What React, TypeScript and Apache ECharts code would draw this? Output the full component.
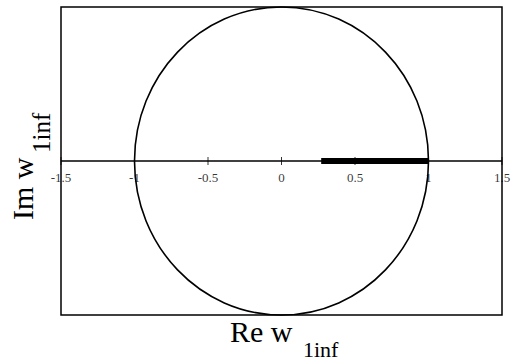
import React, { useEffect, useRef } from "react";
import * as echarts from "echarts";

// Real-axis tick values and their labels
const xTicks: number[] = [-1.5, -1, -0.5, 0, 0.5, 1, 1.5];
const xTickLabels: string[] = ["-1.5", "-1", "-0.5", "0", "0.5", "1", "1.5"];

// Unit circle: [centerRe, centerIm, radius]
const circleData: number[][] = [[0, 0, 1]];

// Highlighted segment on the real axis
const segmentData: number[][] = [
  [0.27, 0],
  [1, 0],
];

const SERIF = "'Liberation Serif', 'Times New Roman', serif";

export default function App() {
  const ref = useRef<HTMLDivElement>(null);

  useEffect(() => {
    if (!ref.current) return;
    const chart = echarts.init(ref.current, null, { renderer: "svg" });

    chart.setOption({
      animation: false,
      backgroundColor: "#ffffff",
      grid: {
        left: 61,
        top: 7,
        width: 441,
        height: 308,
        show: true,
        borderColor: "#000",
        borderWidth: 1.5,
        backgroundColor: "transparent",
      },
      xAxis: {
        type: "value",
        min: -1.5,
        max: 1.5,
        interval: 0.5,
        axisLine: { show: false },
        axisTick: { show: false },
        splitLine: { show: false },
        axisLabel: { show: false },
      },
      yAxis: {
        type: "value",
        min: -1,
        max: 1,
        show: false,
        splitLine: { show: false },
      },
      series: [
        {
          // real axis line through Im = 0
          type: "line",
          data: [
            [xTicks[0], 0],
            [xTicks[xTicks.length - 1], 0],
          ],
          symbol: "none",
          lineStyle: { color: "#000", width: 1.3 },
          silent: true,
          z: 2,
        },
        {
          // tick marks crossing the real axis, with their labels
          type: "scatter",
          data: xTicks.map((v) => [v, 0]),
          symbol: "rect",
          symbolSize: [1, 8],
          itemStyle: { color: "#000" },
          clip: false,
          label: {
            show: true,
            position: "bottom",
            distance: 6,
            color: "#000",
            fontFamily: SERIF,
            fontSize: 13,
            formatter: (p: any) => xTickLabels[p.dataIndex],
          },
          silent: true,
          z: 3,
        },
        {
          type: "custom",
          data: circleData,
          clip: false,
          renderItem: (params: any, api: any) => {
            const c = api.coord([api.value(0), api.value(1)]);
            const r = api.value(2);
            const s = api.size([r, r]);
            return {
              type: "ellipse",
              shape: { cx: c[0], cy: c[1], rx: s[0], ry: s[1] },
              style: { fill: "none", stroke: "#000", lineWidth: 1.6 },
            };
          },
          silent: true,
          z: 4,
        },
        {
          type: "line",
          data: segmentData,
          symbol: "none",
          lineStyle: { color: "#000", width: 6, cap: "butt" },
          silent: true,
          z: 5,
        },
      ],
      graphic: [
        {
          type: "text",
          x: 230,
          y: 331,
          style: { text: "Re w", font: `30px ${SERIF}`, fill: "#000", textAlign: "left", textVerticalAlign: "middle" },
        },
        {
          type: "text",
          x: 303,
          y: 349,
          style: { text: "1inf", font: `22px ${SERIF}`, fill: "#000", textAlign: "left", textVerticalAlign: "middle" },
        },
        {
          type: "text",
          x: 22.5,
          y: 220,
          rotation: Math.PI / 2,
          style: { text: "Im w", font: `30px ${SERIF}`, fill: "#000", textAlign: "left", textVerticalAlign: "middle" },
        },
        {
          type: "text",
          x: 41,
          y: 153,
          rotation: Math.PI / 2,
          style: { text: "1inf", font: `25px ${SERIF}`, fill: "#000", textAlign: "left", textVerticalAlign: "middle" },
        },
      ],
    });

    return () => chart.dispose();
  }, []);

  return <div ref={ref} style={{ width: 514, height: 360, position: "absolute", left: 0, top: 0 }} />;
}
